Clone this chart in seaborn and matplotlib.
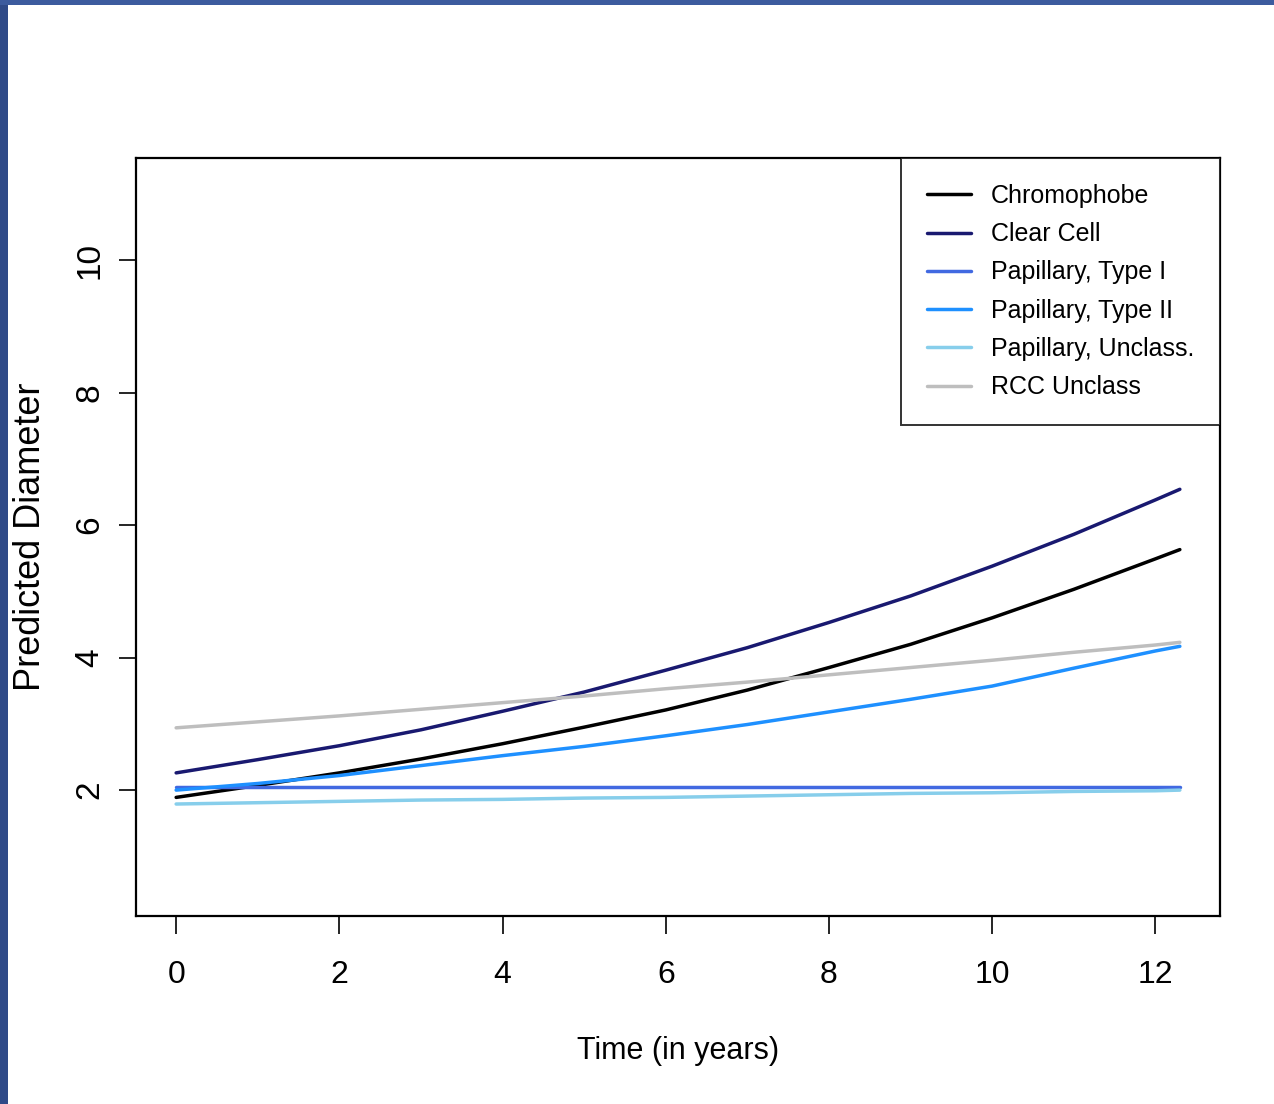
import numpy as np
import pandas as pd
import matplotlib
matplotlib.use("Agg")
import matplotlib.pyplot as plt
import seaborn as sns
from matplotlib.patches import Rectangle

# Values (predicted diameter per year)
years = [0, 1, 2, 3, 4, 5, 6, 7, 8, 9, 10, 11, 12, 12.3]
chromophobe = [1.89, 2.07, 2.26, 2.47, 2.70, 2.95, 3.21, 3.51, 3.85, 4.20, 4.60, 5.03, 5.49, 5.63]
clear_cell = [2.26, 2.46, 2.67, 2.91, 3.19, 3.48, 3.81, 4.15, 4.53, 4.93, 5.38, 5.86, 6.38, 6.54]
pap_type1 = [2.05, 2.05, 2.05, 2.05, 2.05, 2.05, 2.05, 2.05, 2.05, 2.05, 2.05, 2.05, 2.05, 2.05]
pap_type2 = [2.00, 2.10, 2.22, 2.37, 2.52, 2.66, 2.82, 2.99, 3.18, 3.37, 3.57, 3.84, 4.10, 4.17]
pap_unclass = [1.79, 1.81, 1.83, 1.85, 1.86, 1.88, 1.89, 1.91, 1.93, 1.95, 1.96, 1.98, 1.99, 2.00]
rcc_unclass = [2.94, 3.03, 3.12, 3.22, 3.32, 3.42, 3.53, 3.63, 3.74, 3.85, 3.96, 4.08, 4.19, 4.23]

groups = ["Chromophobe", "Clear Cell", "Papillary, Type I", "Papillary, Type II",
          "Papillary, Unclass.", "RCC Unclass"]
colors = ["black", "#191970", "#4169E1", "#1E90FF", "#87CEEB", "#BEBEBE"]

series = [chromophobe, clear_cell, pap_type1, pap_type2, pap_unclass, rcc_unclass]
df = pd.concat([pd.DataFrame({"year": years, "diameter": vals, "group": name})
                for name, vals in zip(groups, series)], ignore_index=True)

sns.set_style("white")
plt.rcParams["font.family"] = ["Liberation Sans", "DejaVu Sans"]
plt.rcParams["text.color"] = "black"
plt.rcParams["axes.labelcolor"] = "black"
plt.rcParams["xtick.color"] = "black"
plt.rcParams["ytick.color"] = "black"

fig = plt.figure(figsize=(12.74, 11.04), dpi=100)
fig.patch.set_facecolor("white")
# slide border (blue strip on the left and the top)
fig.patches.append(Rectangle((0, 0), 8 / 1274, 1, transform=fig.transFigure,
                             facecolor="#2f4a88", edgecolor="none", zorder=0))
fig.patches.append(Rectangle((0, 1 - 5 / 1104), 1, 5 / 1104, transform=fig.transFigure,
                             facecolor="#3c5b9e", edgecolor="none", zorder=0))

ax = fig.add_axes([136 / 1274, 1 - 916 / 1104, (1220 - 136) / 1274, (916 - 158) / 1104])

sns.lineplot(data=df, x="year", y="diameter", hue="group", hue_order=groups,
             palette=colors, linewidth=2.5, ax=ax, legend=True)

ax.set_xlim(-0.492, 12.792)
ax.set_ylim(0.1, 11.54)
ax.set_xticks([0, 2, 4, 6, 8, 10, 12])
ax.set_yticks([2, 4, 6, 8, 10])
ax.set_xticklabels(["0", "2", "4", "6", "8", "10", "12"], fontsize=23)
ax.set_yticklabels(["2", "4", "6", "8", "10"], fontsize=24, rotation=90, va="center")

ax.tick_params(axis="x", direction="out", length=13, width=1.2, pad=19)
ax.tick_params(axis="y", direction="out", length=12, width=1.2, pad=10)
ax.tick_params(bottom=True, left=True)

for s in ax.spines.values():
    s.set_visible(True)
    s.set_color("black")
    s.set_linewidth(1.6)

ax.set_xlabel("Time (in years)", fontsize=22, labelpad=33)
ax.set_ylabel("Predicted Diameter", fontsize=26, labelpad=19)

handles, labels = ax.get_legend_handles_labels()
leg = ax.legend(handles, labels, loc="upper right", frameon=True, fancybox=False,
                borderaxespad=0, borderpad=1.04, labelspacing=0.57,
                handlelength=1.75, handletextpad=0.8,
                prop={"size": 18})
leg.get_frame().set_edgecolor("black")
leg.get_frame().set_linewidth(1.4)
for line in leg.get_lines():
    line.set_linewidth(2.5)

fig.savefig("out.png", dpi=100)
